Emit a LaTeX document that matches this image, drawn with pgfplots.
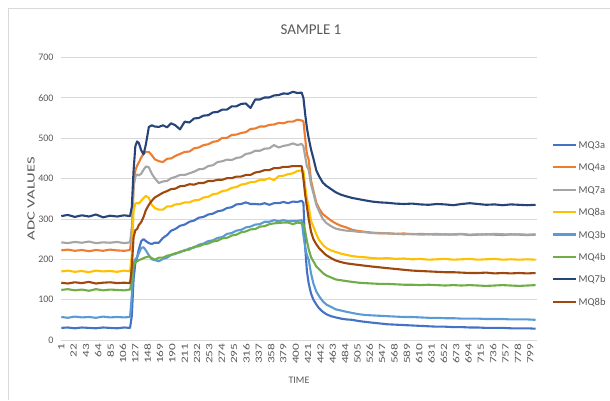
\documentclass[border=0pt]{standalone}
\usepackage{pgfplots}
\pgfplotsset{compat=1.18}
\usepackage{pgfplotstable}
\usepackage{fontspec}
\setmainfont{Carlito}
\newfontfamily\xstretch[FakeStretch=1.4]{Carlito}
\newfontfamily\ystretch[FakeStretch=1.5]{Carlito}
\definecolor{txt}{HTML}{595959}
\definecolor{gridc}{HTML}{D9D9D9}
\definecolor{cA}{HTML}{4472C4}
\definecolor{cB}{HTML}{ED7D31}
\definecolor{cC}{HTML}{A5A5A5}
\definecolor{cD}{HTML}{FFC000}
\definecolor{cE}{HTML}{5B9BD5}
\definecolor{cF}{HTML}{70AD47}
\definecolor{cG}{HTML}{264478}
\definecolor{cH}{HTML}{9E480E}
\pgfplotstableread{
t A B C D E F G H
1 30 222 242 170 57 124 307 142
12 31 224 240 172 55 126 310 140
24 29 221 243 169 58 123 305 143
36 31 223 241 171 56 125 309 141
48 30 220 244 168 57 122 306 144
60 29 223 240 172 55 126 311 140
72 31 221 242 170 58 123 304 142
84 30 224 241 171 56 125 308 143
96 29 222 243 169 57 124 306 141
108 31 221 240 172 56 123 309 142
118 30 223 242 170 57 125 307 141
121 60 260 280 210 110 150 330 180
124 150 380 380 320 190 185 420 255
127 190 420 405 338 200 192 480 272
130 205 432 410 340 205 195 492 275
133 225 440 408 338 215 198 488 285
137 245 452 412 345 228 200 470 292
141 250 462 422 352 230 203 460 305
145 245 466 430 357 222 205 485 322
150 240 466 428 352 210 207 528 335
155 238 458 412 335 200 203 532 345
160 241 448 401 327 198 199 529 353
167 241 443 389 323 195 204 528 359
174 253 441 393 323 201 204 532 365
181 260 449 394 331 204 209 527 369
188 271 450 401 331 211 211 537 374
195 275 456 404 336 213 215 532 375
203 283 461 409 337 219 217 522 381
211 286 466 409 341 221 223 541 382
219 293 467 413 341 227 224 539 386
227 296 475 417 346 229 231 549 385
235 303 477 423 347 236 232 550 389
243 305 483 424 353 239 237 556 389
251 311 485 431 355 245 239 557 394
259 313 491 433 361 247 244 564 394
267 319 493 441 363 253 246 565 397
275 321 501 443 369 255 252 571 397
283 327 501 447 371 263 253 571 401
291 329 508 446 377 265 259 579 401
299 336 509 451 379 271 261 579 405
307 337 513 453 385 273 267 585 405
315 341 515 461 387 279 269 586 409
323 337 523 463 391 281 274 575 409
331 337 524 469 392 286 275 596 415
339 336 529 469 397 287 281 596 417
347 339 529 474 397 293 282 601 421
355 335 533 475 401 293 287 601 421
363 339 534 483 396 297 289 606 426
371 339 538 477 406 294 290 607 426
379 342 537 481 407 297 291 611 429
387 339 541 483 411 294 291 610 429
395 343 541 487 413 295 287 615 431
403 342 546 483 419 295 291 612 431
410 345 544 486 420 297 289 613 431
413 340 542 480 420 260 288 600 400
416 230 500 455 380 230 270 560 360
419 170 460 430 350 210 245 525 330
422 140 447 422 331 199 225 500 300
426 115 395 385 295 165 205 472 268
430 100 370 364 281 140 195 450 250
435 88 340 335 262 120 182 420 237
440 78 325 318 247 108 175 405 227
446 70 312 300 236 96 166 390 218
452 64 305 290 228 88 160 382 210
460 59 296 282 222 82 155 374 203
468 56 289 276 218 76 150 366 197
477 53 283 273 214 73 148 360 193
486 51 279 271 211 70 146 356 190
496 50 273 270 208 67 144 352 188
507 47 270 268 206 64 142 349 186
518 45 268 267 205 62 141 346 184
530 43 266 265 203 61 140 343 182
543 41 265 264 202 60 139 341 180
556 39 264 265 203 59 139 340 178
570 38 263 263 201 58 138 338 176
584 37 264 262 202 57 137 337 174
598 36 262 263 200 57 137 338 172
612 35 263 261 201 56 136 336 171
626 34 262 262 199 55 137 335 170
640 33 261 263 200 55 136 337 169
654 33 262 261 201 54 135 336 168
668 32 261 262 199 54 136 334 168
682 32 262 263 200 53 135 337 167
696 31 260 261 201 53 136 339 166
710 31 261 262 199 53 135 337 166
724 30 262 261 200 52 134 335 167
738 30 261 263 201 52 135 336 165
752 30 260 262 199 52 136 334 166
766 29 262 261 200 51 135 336 165
780 29 261 262 199 51 134 335 166
794 29 260 261 200 51 135 334 165
808 28 261 262 199 50 136 335 166
}\data
\begin{document}
\begin{tikzpicture}[x=1pt,y=1pt]
\useasboundingbox (0,0) rectangle (610,400);
\draw[color=black!15, line width=0.75pt] (8,0) -- (8,392) -- (610,392);
\node[text=txt, font=\fontsize{15}{17}\selectfont] at (311,370) {SAMPLE 1};
\begin{axis}[
  at={(61pt,60pt)}, anchor=south west, scale only axis,
  width=476pt, height=282.5pt,
  xmin=0.5, xmax=810.5, ymin=0, ymax=700,
  ytick={0,100,...,700}, xtick={1,22,...,799},
  ymajorgrids, grid style={gridc, line width=0.75pt},
  axis line style={draw=none}, major tick length=0pt,
  tick label style={text=txt},
  yticklabel style={font=\fontsize{10}{11}\selectfont, xshift=-4pt},
  xticklabel style={font=\xstretch\fontsize{9.5}{10}\selectfont, rotate=90, anchor=east},
  /pgf/number format/assume math mode=true,
  clip=false,
  legend cell align=left,
  legend style={draw=none, fill=none, at={(1.0315,0.7027)}, anchor=north west,
    inner sep=0pt, outer sep=0pt, row sep=15.4pt, column sep=1.5pt,
    font=\fontsize{10.5}{11}\selectfont, text=txt,
    nodes={inner sep=0pt, anchor=west, text height=7pt, text depth=0pt}},
  legend image code/.code={\draw[#1, line width=2.2pt, line cap=butt] (0pt,0pt) -- (23pt,0pt);},
  every axis plot/.append style={line width=2.1pt, line join=round, no markers},
]
\addplot[cA] table[x=t, y=A] {\data};
\addplot[cB] table[x=t, y=B] {\data};
\addplot[cC] table[x=t, y=C] {\data};
\addplot[cD] table[x=t, y=D] {\data};
\addplot[cE] table[x=t, y=E] {\data};
\addplot[cF] table[x=t, y=F] {\data};
\addplot[cG] table[x=t, y=G] {\data};
\addplot[cH] table[x=t, y=H] {\data};
\legend{MQ3a,MQ4a,MQ7a,MQ8a,MQ3b,MQ4b,MQ7b,MQ8b}
\node[text=txt, font=\fontsize{10}{12}\selectfont] at (rel axis cs:0.5,-0.1416) {TIME};
\node[text=txt, font=\ystretch\fontsize{11}{12}\selectfont, rotate=90] at (rel axis cs:-0.063,0.5) {ADC VALUES};
\end{axis}
\end{tikzpicture}
\end{document}
